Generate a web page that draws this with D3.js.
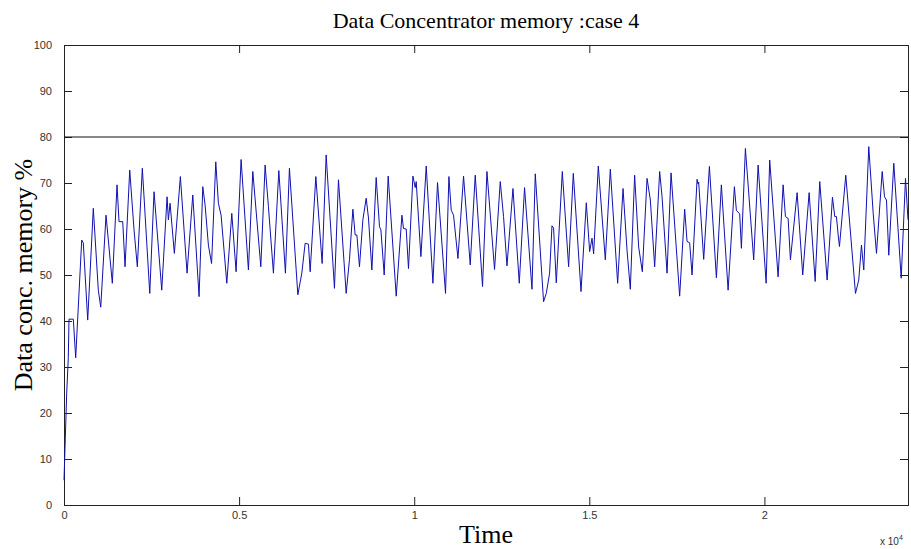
<!DOCTYPE html>
<html lang="en">
<head>
    <meta charset="UTF-8">
    <script src="https://d3js.org/d3.v7.min.js"></script>
    <style>
        body { margin: 0; background: #fff; }
        .tick text { font-family: Arial, "Liberation Sans", sans-serif; font-size: 11px; fill: #333; }
        .serif { font-family: "Liberation Serif", "Times New Roman", serif; fill: #000; }
    </style>
</head>
<body>
    <div id="chart"></div>

    <script>
        // time (s) and memory %
        var times = [0, 77, 123, 143, 266, 334, 506, 551, 677, 837, 980, 1049, 1200, 1380, 1514, 1571, 1677, 1743, 1877, 2000,
            2094, 2237, 2449, 2571, 2791, 2943, 2980, 3029, 3151, 3323, 3514, 3677, 3857, 3963, 4029, 4123, 4214, 4334, 4409, 4486,
            4649, 4791, 4914, 5057, 5266, 5391, 5620, 5743, 5837, 5980, 6134, 6323, 6437, 6677, 6791, 6886, 6980, 7029, 7191, 7371,
            7486, 7723, 7837, 8057, 8151, 8249, 8314, 8363, 8437, 8534, 8629, 8694, 8791, 8914, 9009, 9049, 9143, 9257, 9486, 9649,
            9694, 9771, 9837, 9963, 10029, 10057, 10191, 10343, 10534, 10666, 10894, 10991, 11057, 11123, 11249, 11409, 11600, 11743, 11951, 12077,
            12294, 12457, 12551, 12649, 12820, 13000, 13151, 13363, 13457, 13694, 13771, 13866, 13934, 13980, 14057, 14229, 14409, 14543, 14763, 14914,
            15009, 15077, 15123, 15257, 15457, 15600, 15809, 15963, 16077, 16171, 16294, 16409, 16514, 16649, 16743, 16866, 17009, 17077, 17220, 17334,
            17580, 17723, 17791, 17866, 17934, 18077, 18106, 18123, 18266, 18429, 18629, 18771, 18963, 19143, 19200, 19294, 19343, 19457, 19694, 19820,
            20049, 20151, 20391, 20534, 20600, 20677, 20743, 20934, 21094, 21277, 21449, 21580, 21791, 21943, 22009, 22057, 22106, 22143, 22323, 22600,
            22694, 22771, 22837, 22980, 23106, 23200, 23363, 23429, 23486, 23551, 23694, 23906, 24029, 24100];
        var memory = [5.4, 24.3, 32, 40.4, 40.4, 32, 57.6, 57, 40.2, 64.5, 46.7, 43, 63, 48.2, 69.6, 61.6, 61.6, 51.8, 72.8, 59.8,
            51.8, 73.2, 46, 68.1, 46.7, 67, 62, 65.6, 54.7, 71.4, 50.4, 67.4, 45.3, 69.2, 65.2, 56.5, 52.5, 74.6, 65.6, 63,
            48.2, 63.4, 50.7, 75.1, 51.1, 72.5, 51.8, 73.9, 64.9, 50.4, 72.7, 50.4, 73.2, 45.7, 50.4, 56.9, 56.7, 50.7, 71.4, 52.5,
            76.1, 47.1, 70.7, 46, 53.3, 64.3, 58.7, 58.7, 51.8, 62, 66.7, 62.4, 51.1, 71.2, 60.5, 59.8, 50, 71.5, 45.4, 63,
            60.1, 60, 51.4, 71.5, 69, 70.3, 54, 73.7, 48.2, 70.1, 46, 71.4, 64.1, 63, 53.6, 71.5, 52.2, 71.7, 47.5, 72.5,
            51.2, 70.3, 62.7, 52, 68.8, 48.2, 69, 46.9, 72, 44.2, 46, 50.4, 60.7, 60.2, 48.3, 72.5, 51.8, 72.1, 46.4, 65.7,
            55.1, 58, 54.6, 73.7, 53.3, 73, 48.2, 68.8, 55.4, 46.9, 71.7, 56.1, 50.7, 71, 66.3, 51.8, 72.5, 67, 50.4, 72.2,
            45.4, 64.3, 57.3, 57, 50, 70.8, 69.8, 70.2, 53.4, 73.6, 49.4, 69.6, 46.7, 69.2, 64, 63.3, 55.8, 77.5, 53.3, 73.9,
            48.2, 75, 49.6, 69.6, 62.7, 62.3, 53.3, 67.9, 50, 67.9, 48.6, 70.3, 48.9, 66.9, 62.7, 62.7, 58.7, 56.2, 71.7, 46,
            48.9, 56.5, 51.1, 77.9, 63.4, 54.7, 72.5, 67, 66.3, 54.3, 74.3, 49.3, 71, 62];

        var xTicks = [0, 5000, 10000, 15000, 20000];
        var xTickLabels = ["0", "0.5", "1", "1.5", "2"];
        var yTicks = [0, 10, 20, 30, 40, 50, 60, 70, 80, 90, 100];
        var limitLevel = 80;

        var width = 911, height = 549;
        var margin = { top: 45, right: 3, bottom: 44, left: 64 };
        var w = width - margin.left - margin.right,
            h = height - margin.top - margin.bottom;

        var svg = d3.select("#chart")
            .append("svg")
            .attr("width", width)
            .attr("height", height);

        var g = svg.append("g")
            .attr("transform", "translate(" + margin.left + "," + margin.top + ")");

        var x = d3.scaleLinear().domain([0, 24100]).range([0, w]);
        var y = d3.scaleLinear().domain([0, 100]).range([h, 0]);

        // axes with inward ticks on all four sides
        var xAxis = g.append("g")
            .attr("transform", "translate(0," + h + ")")
            .call(d3.axisBottom(x).tickValues(xTicks).tickSize(-8).tickPadding(12)
                .tickFormat(function (d, i) { return xTickLabels[i]; }));
        var xAxisTop = g.append("g")
            .call(d3.axisTop(x).tickValues(xTicks).tickSize(-8).tickFormat(""));
        var yAxis = g.append("g")
            .call(d3.axisLeft(y).tickValues(yTicks).tickSize(-8).tickPadding(12));
        var yAxisRight = g.append("g")
            .attr("transform", "translate(" + w + ",0)")
            .call(d3.axisRight(y).tickValues(yTicks).tickSize(-8).tickFormat(""));

        g.selectAll(".domain").attr("stroke", "#222");
        g.selectAll(".tick line").attr("stroke", "#222");
        xAxis.selectAll(".tick text").attr("dy", "0.2em");

        // limit line at 80
        g.append("line")
            .attr("x1", 0).attr("x2", w)
            .attr("y1", y(limitLevel)).attr("y2", y(limitLevel))
            .attr("stroke", "#111")
            .attr("stroke-width", 1);

        var series = times.map(function (t, i) { return [t, memory[i]]; });

        g.append("path")
            .datum(series)
            .attr("fill", "none")
            .attr("stroke", "#1010b0")
            .attr("stroke-width", 1)
            .attr("d", d3.line()
                .x(function (d) { return x(d[0]); })
                .y(function (d) { return y(d[1]); }));

        // exponent label
        var expo = svg.append("text")
            .attr("x", 880)
            .attr("y", 545)
            .style("font-family", "Arial, 'Liberation Sans', sans-serif")
            .style("font-size", "10px")
            .style("fill", "#333");
        expo.append("tspan").text("x 10");
        expo.append("tspan").attr("dy", -5).style("font-size", "7px").text("4");

        svg.append("text")
            .attr("class", "serif")
            .attr("x", 486)
            .attr("y", 28)
            .attr("text-anchor", "middle")
            .style("font-size", "22px")
            .text("Data Concentrator memory :case 4");

        svg.append("text")
            .attr("class", "serif")
            .attr("x", 486)
            .attr("y", 543)
            .attr("text-anchor", "middle")
            .style("font-size", "26px")
            .text("Time");

        svg.append("text")
            .attr("class", "serif")
            .attr("transform", "translate(32," + (margin.top + h / 2) + ") rotate(-90)")
            .attr("text-anchor", "middle")
            .style("font-size", "26px")
            .text("Data conc. memory %");
    </script>
</body>
</html>
